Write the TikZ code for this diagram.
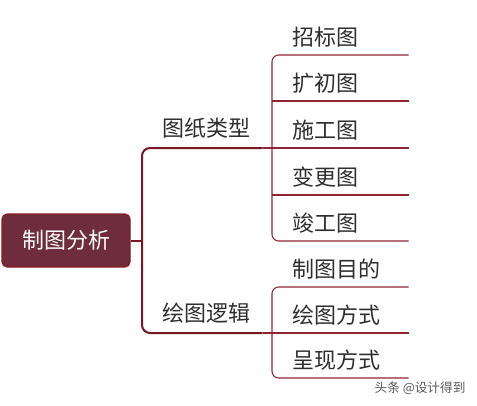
\documentclass[tikz,border=0pt]{standalone}
\usepackage{fontspec}
\newfontfamily\cjk{Noto Sans CJK SC}
\usepackage{tikz}
\usetikzlibrary{positioning,calc}
\definecolor{trunkred}{HTML}{7A1620}
\definecolor{twigred}{HTML}{8E2433}
\definecolor{rootfill}{HTML}{6E2C3C}
\definecolor{rootedge}{HTML}{8B1A22}
\definecolor{inkgray}{HTML}{2E2E2E}
\tikzset{
  trunk/.style={draw=trunkred, line width=1.5pt},
  twig/.style={draw=twigred, line width=0.8pt},
  rootbox/.style={draw=rootedge, fill=rootfill, line width=1pt, rounded corners=4pt,
    minimum width=96pt, minimum height=39.75pt, text=white,
    font=\cjk\fontsize{16.5}{18}\selectfont},
  branch/.style={anchor=south west, text width=75pt, align=left, inner xsep=0pt,
    inner ysep=0pt, minimum height=30pt, text=inkgray,
    font=\cjk\fontsize{16.5}{18}\selectfont},
  leaf/.style={anchor=south west, text width=87pt, align=left, inner xsep=0pt,
    inner ysep=0pt, minimum height=27pt, text=inkgray,
    font=\cjk\fontsize{16.5}{18}\selectfont}
}
\begin{document}
\begin{tikzpicture}[x=0.75pt,y=-0.75pt]
  \useasboundingbox (0,0) rectangle (477,405);
  % root
  \node[rootbox] (r) at (66,240.5) {制图分析};
  % first level
  \node[branch] (t1) at (162,148) {图纸类型};
  \node[branch] (t2) at (162,333) {绘图逻辑};
  \coordinate (j1) at ([xshift=-15pt]t1.south west);
  \coordinate (j2) at ([xshift=-15pt]t2.south west);
  \draw[trunk] (r.east) -- (r.east -| j1);
  \draw[trunk, rounded corners=6pt] (t1.south east) -- (j1) -- (j2) -- (t2.south east);
  % second level
  \foreach \name/\y/\txt in {a1/55/招标图, a2/101/扩初图, a3/148/施工图,
                             a4/195/变更图, a5/241/竣工图,
                             b1/287/制图目的, b2/333/绘图方式, b3/378/呈现方式} {
    \node[leaf] (\name) at (292,\y) {\txt};
  }
  % connectors
  \draw[twig, rounded corners=5pt] (a1.south east) -- ([xshift=-15pt]a1.south west)
    -- ([xshift=-15pt]a5.south west) -- (a5.south east);
  \foreach \n in {a2,a3,a4} {
    \draw[twig] ([xshift=-15pt]\n.south west) -- (\n.south east);
  }
  \draw[twig] (t1.south east) -- ([xshift=-15pt]a3.south west);
  \draw[twig, rounded corners=5pt] (b1.south east) -- ([xshift=-15pt]b1.south west)
    -- ([xshift=-15pt]b3.south west) -- (b3.south east);
  \draw[twig] ([xshift=-15pt]b2.south west) -- (b2.south east);
  \draw[twig] (t2.south east) -- ([xshift=-15pt]b2.south west);
  % watermark
  \node[text=black!65, font=\cjk\fontsize{9.5}{11}\selectfont] (wm) at (420,388) {头条 @设计得到};
\end{tikzpicture}
\end{document}
